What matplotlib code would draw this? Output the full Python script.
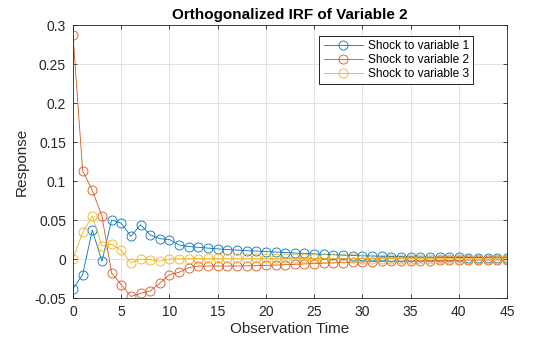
import matplotlib
matplotlib.use("Agg")
from matplotlib import pyplot as plt
import numpy as np

plt.rcParams['font.family'] = ['Liberation Sans', 'DejaVu Sans']

steps = np.arange(46)

shock1 = [-0.038, -0.020, 0.037, -0.003, 0.050, 0.046, 0.029, 0.044, 0.031, 0.026,
          0.025, 0.018, 0.016, 0.015, 0.014, 0.013, 0.012, 0.0115, 0.0107, 0.0102,
          0.0095, 0.009, 0.0083, 0.0077, 0.0071, 0.0065, 0.006, 0.0055, 0.005, 0.0045,
          0.0041, 0.0038, 0.0035, 0.0032, 0.003, 0.0028, 0.0026, 0.0024, 0.0022, 0.0021,
          0.002, 0.0019, 0.0018, 0.0017, 0.0016, 0.0015]
shock2 = [0.287, 0.113, 0.088, 0.055, -0.018, -0.033, -0.048, -0.044, -0.041, -0.031,
          -0.020, -0.017, -0.011, -0.009, -0.009, -0.009, -0.009, -0.009, -0.0088, -0.0085,
          -0.0082, -0.0078, -0.0073, -0.0068, -0.0063, -0.0058, -0.0053, -0.0049, -0.0045, -0.0041,
          -0.0037, -0.0034, -0.0031, -0.0029, -0.0027, -0.0025, -0.0023, -0.0021, -0.0019, -0.0018,
          -0.0016, -0.0015, -0.0014, -0.0013, -0.0012, -0.0011]
shock3 = [0.0, 0.034, 0.055, 0.017, 0.019, 0.011, -0.005, 0.0, -0.001, -0.003,
          0.0, 0.0003, 0.0005, 0.0006, 0.0007, 0.0008, 0.0008, 0.0008, 0.0008, 0.0008,
          0.0008, 0.0008, 0.0008, 0.0008, 0.0008, 0.0007, 0.0007, 0.0007, 0.0007, 0.0007,
          0.0006, 0.0006, 0.0006, 0.0006, 0.0005, 0.0005, 0.0005, 0.0005, 0.0004, 0.0004,
          0.0004, 0.0004, 0.0003, 0.0003, 0.0003, 0.0003]

labels = ["Shock to variable 1", "Shock to variable 2", "Shock to variable 3"]
colors = ["#0072BD", "#D95319", "#EDB120"]

fig = plt.figure(figsize=(5.6, 3.37), dpi=100)
ax = fig.add_axes([0.1304, 0.1157, 0.775, 0.810])

for ys, lab, col in zip([shock1, shock2, shock3], labels, colors):
    ax.plot(steps, ys, color=col, lw=0.6, marker="o", markersize=6.5,
            markerfacecolor="none", markeredgewidth=0.6, label=lab)

ax.set_xlim(0, 45)
ax.set_ylim(-0.05, 0.3)
ax.set_xticks(np.arange(0, 46, 5))
ax.set_yticks(np.arange(-0.05, 0.301, 0.05))
ax.yaxis.set_major_formatter(lambda v, pos: "%g" % round(v, 3))
ax.grid(True, color="#dcdcdc", lw=0.6)
ax.set_axisbelow(True)
ax.tick_params(direction="in", top=True, right=True, labelsize=10, color="#262626",
               labelcolor="#262626", length=3, width=0.6, pad=5)
for s in ax.spines.values():
    s.set_linewidth(0.6)
    s.set_color("#262626")

ax.set_xlabel("Observation Time", fontsize=11, labelpad=2, color="#262626")
ax.set_ylabel("Response", fontsize=11, labelpad=4, color="#262626")
ax.set_title("Orthogonalized IRF of Variable 2", fontsize=11, fontweight="bold", pad=4)

leg = ax.legend(loc="upper right", bbox_to_anchor=(0.922, 0.96), fontsize=8.6,
                frameon=True, fancybox=False, edgecolor="black", framealpha=1,
                handlelength=3.3, borderpad=0.35, labelspacing=0.15, handletextpad=0.4,
                borderaxespad=0)
leg.get_frame().set_linewidth(0.6)

fig.savefig("out.png", dpi=100)
